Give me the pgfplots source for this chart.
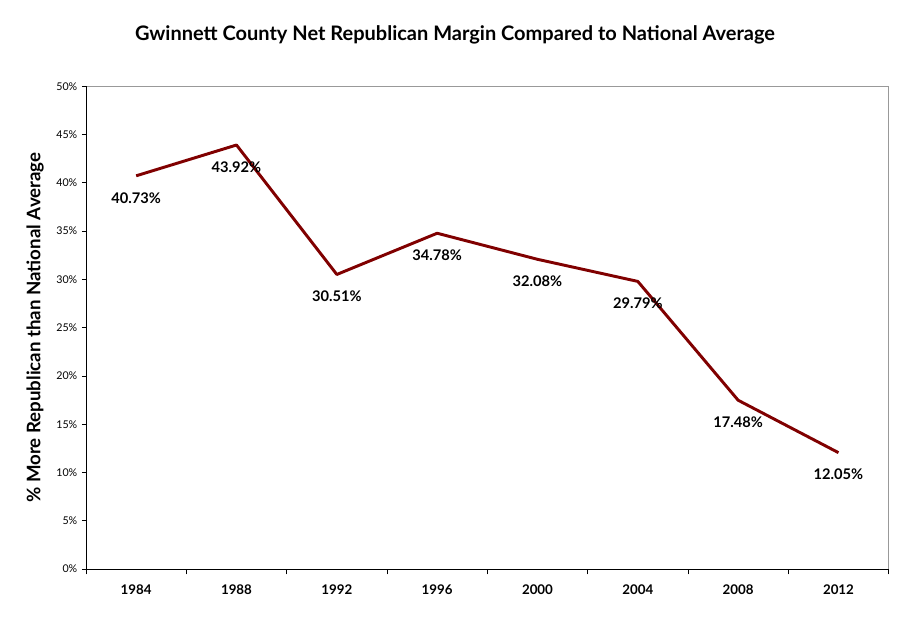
\documentclass[border=0pt]{standalone}
\usepackage{fontspec}
\setmainfont{Lato}
\usepackage{pgfplots}
\pgfplotsset{compat=1.18}
\definecolor{maroonline}{HTML}{800000}
\begin{document}
\begin{tikzpicture}
\begin{axis}[
    at={(0pt,0pt)}, anchor=south west,
    width=602pt, height=362pt, scale only axis,
    xmin=-0.5, xmax=7.5, ymin=0, ymax=0.5,
    xtick={0,...,7},
    xticklabels={1984,1988,1992,1996,2000,2004,2008,2012},
    major x tick style={draw=none},
    minor xtick={-0.5,0.5,...,7.5},
    minor tick length=4pt,
    xtick pos=bottom, ytick pos=left,
    xticklabel style={font=\bfseries\fontsize{10}{12}\selectfont, yshift=-5pt},
    ytick={0,0.05,...,0.5},
    yticklabels={0\%,5\%,10\%,15\%,20\%,25\%,30\%,35\%,40\%,45\%,50\%},
    yticklabel style={font=\fontsize{8}{10}\selectfont},
    major tick length=3pt,
    tick align=outside,
    tick style={black, line width=0.6pt},
    axis line style={gray!80, line width=0.6pt},
    ylabel={\% More Republican than National Average},
    ylabel style={font=\bfseries\fontsize{14}{16}\selectfont, at={(axis description cs:-0.0635,0.5)}, anchor=center, rotate=0},
    /pgf/number format/assume math mode=true,
    nodes near coords={\pgfmathprintnumber[fixed,precision=2,fixed zerofill,assume math mode=true]{\pgfplotspointmeta}\%},
    point meta={y*100},
    every node near coord/.append style={anchor=north, yshift=-8pt, font=\bfseries\fontsize{11}{13}\selectfont, black},
    clip=false,
]
\addplot[maroonline, line width=2.2pt, line join=round] coordinates {
    (0,0.4073) (1,0.4392) (2,0.3051) (3,0.3478)
    (4,0.3208) (5,0.2979) (6,0.1748) (7,0.1205)
};
\draw[black, line width=0.6pt] (rel axis cs:0,1) -- (rel axis cs:0,0) -- (rel axis cs:1,0);
\end{axis}
\node[font=\bfseries\fontsize{15}{17}\selectfont] at (276.75pt,400.5pt) {Gwinnett County Net Republican Margin Compared to National Average};
\path[use as bounding box] (-64.5pt,-40.5pt) rectangle (618.75pt,426.75pt);
\end{tikzpicture}
\end{document}
